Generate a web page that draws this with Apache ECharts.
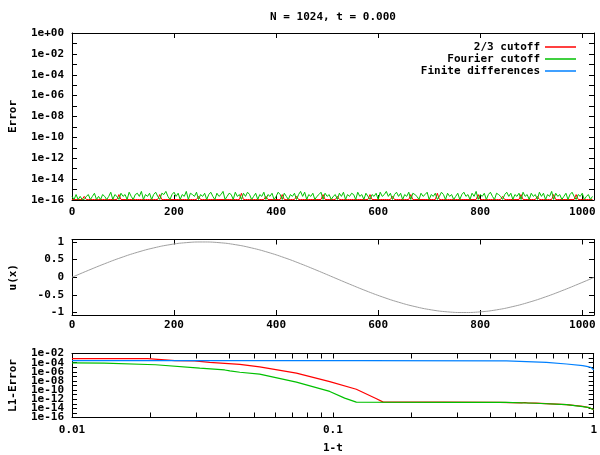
<!DOCTYPE html>
<html><head><meta charset="utf-8">
<script src="https://cdn.jsdelivr.net/npm/echarts@6/dist/echarts.min.js"></script>
<style>html,body{margin:0;padding:0;background:#fff}#c{width:600px;height:455px}</style>
</head><body><div id="c"></div>
<script>
const titleText = 'N = 1024, t = 0.000';
const seriesNames = ['2/3 cutoff', 'Fourier cutoff', 'Finite differences'];
const colors = ['#ff0000', '#00c000', '#0080ff'];

// ---- top panel: pointwise error, in units of double-precision ulp (1.11e-16), sampled every 4th grid point
const noiseStep = 4;
const ulp = 1.11e-16;
const greenNoise = [
2,1,3,1,2,1,1,2,3,1,2,4,1,2,1,3,2,1,2,5,1,3,2,1,4,2,3,1,5,2,1,3,
4,2,6,1,3,2,4,1,3,5,2,1,4,3,6,2,1,3,5,2,4,1,3,2,6,1,4,3,2,5,1,3,
2,4,1,3,5,2,1,4,2,3,6,1,2,4,3,1,5,2,3,1,4,2,5,3,1,2,4,1,3,2,5,1,
3,2,4,1,2,5,3,1,4,2,1,3,2,4,1,3,6,2,5,1,3,2,4,1,2,3,5,1,4,2,3,1,
2,3,1,4,2,5,1,3,2,4,3,1,5,2,3,1,4,2,1,3,2,4,1,5,2,3,6,2,4,1,3,5,
2,4,1,3,2,5,1,4,3,2,1,4,2,3,5,1,3,2,4,1,2,5,3,1,4,2,3,1,2,4,1,3,
5,2,3,1,4,2,6,1,3,2,4,1,3,5,2,1,4,3,2,1,3,5,2,4,1,3,2,4,1,5,2,3,
1,4,2,3,1,5,2,4,1,3,2,6,1,4,2,3,1,2,4,1,3,5,2,1,3,2,4,1,2,3,1,2];
const redNoise = [
1,1,1,1,1,1,2,1,1,1,1,1,1,1,1,1,1,1,1,1,1,1,1,3,1,1,1,1,1,1,1,1,
1,1,1,1,1,1,1,1,1,1,1,3,1,1,1,1,1,1,1,1,1,1,1,1,1,1,1,1,1,1,2,1,
1,1,1,1,1,1,1,1,1,1,1,1,1,1,1,1,1,1,1,4,1,1,1,1,1,1,1,1,1,1,1,2,
1,1,1,1,1,1,1,3,1,1,1,1,1,1,2,1,1,1,1,1,1,1,1,1,1,1,1,3,1,1,1,1,
1,1,2,1,1,1,1,1,1,1,1,1,1,1,1,1,1,1,3,1,1,1,1,1,1,1,1,1,1,2,1,1,
1,1,1,1,1,1,3,1,1,1,1,1,1,1,1,1,1,1,1,4,1,1,1,1,1,1,1,1,1,1,1,1,
1,1,1,1,1,1,1,3,1,1,1,1,1,1,1,1,1,1,1,2,1,1,1,1,1,1,1,1,3,1,1,1,
1,1,1,1,2,1,1,1,1,1,1,1,3,1,1,1,1,1,1,1,1,1,1,3,1,1,1,1,1,1,1,1];
const xMax = 1023;
const xTicks = [0, 200, 400, 600, 800, 1000];
const errTicks = [1e-16,1e-15,1e-14,1e-13,1e-12,1e-11,1e-10,1e-9,1e-8,1e-7,1e-6,1e-5,1e-4,1e-3,1e-2,1e-1,1];

// ---- middle panel: u(x)
const uX = [0,32,64,96,128,160,192,224,256,288,320,352,384,416,448,480,512,544,576,608,640,672,704,736,768,800,832,864,896,928,960,992,1023];
const uY = [0,0.195,0.383,0.556,0.707,0.831,0.924,0.981,1,0.981,0.924,0.831,0.707,0.556,0.383,0.195,0,
  -0.195,-0.383,-0.556,-0.707,-0.831,-0.924,-0.981,-1,-0.981,-0.924,-0.831,-0.707,-0.556,-0.383,-0.195,-0.006];
const uTicks = [-1, -0.5, 0, 0.5, 1];

// ---- bottom panel: L1 error vs 1-t
const l1Ticks = [1e-16,1e-15,1e-14,1e-13,1e-12,1e-11,1e-10,1e-9,1e-8,1e-7,1e-6,1e-5,1e-4,1e-3,1e-2];
const tLabels = [0.01, 0.1, 1];
const tTicks = [0.01,0.02,0.03,0.04,0.05,0.06,0.07,0.08,0.09,0.1,0.2,0.3,0.4,0.5,0.6,0.7,0.8,0.9,1];
const redT = [0.01,0.0195,0.0196,0.0248,0.0295,0.0337,0.044,0.0524,0.0725,0.0973,0.123,0.147,0.156,0.264,0.436,0.53,0.545,0.56,0.6,0.787,0.908,0.96,1.0];
const redE = [7.4e-4,7.4e-4,4.5e-4,2.7e-4,2.5e-4,1.1e-4,4.0e-5,1.15e-5,4.9e-7,7.2e-9,1.5e-10,1.26e-12,2.3e-13,2.2e-13,2.05e-13,1.6e-13,1.9e-13,1.5e-13,1.35e-13,6.4e-14,2.6e-14,1.5e-14,5e-15];
const greenT = [0.01,0.0133,0.01346,0.0209,0.0211,0.0309,0.0385,0.0403,0.044,0.0524,0.0725,0.0973,0.111,0.123,0.3,0.46,0.6,0.787,0.908,0.96,1.0];
const greenE = [8.5e-5,8e-5,4.5e-5,3.5e-5,1.9e-5,6.3e-6,2.5e-6,1.6e-6,8e-7,3e-7,5.4e-9,5e-11,1.7e-12,2.3e-13,2.1e-13,2e-13,1.3e-13,6.3e-14,2.5e-14,1.5e-14,5e-15];
const blueT = [0.01,0.129,0.13,0.463,0.47,0.659,0.662,0.787,0.908,0.95,0.98,1.0];
const blueE = [2.7e-4,2.7e-4,2.35e-4,2.35e-4,1.2e-4,1.2e-4,7.4e-5,5.1e-5,2.2e-5,1.4e-5,8e-6,2.5e-6];

const FONT = 'DejaVu Sans Mono';
const txt = {fontFamily: FONT, fontWeight: 'bold', fontSize: 11, color: '#000'};
const lineStyleAxis = {color: '#000', width: 1};

function logLabel(v) {
  const e = Math.round(Math.log10(v));
  if (e % 2 !== 0) return '';
  const a = Math.abs(e);
  return '1e' + (e < 0 ? '-' : '+') + (a < 10 ? '0' + a : '' + a);
}
function mkAxis(gridIndex, type, min, max, position, ticks, labels, fmt, margin, extra) {
  const ax = {
    gridIndex, type, min, max, position,
    axisLine: {show: true, onZero: false, lineStyle: lineStyleAxis},
    axisTick: {show: true, inside: true, length: 5, lineStyle: lineStyleAxis, customValues: ticks},
    axisLabel: labels ? Object.assign({show: true, margin: margin, customValues: labels, formatter: fmt, hideOverlap: false}, txt) : {show: false},
    splitLine: {show: false}, minorTick: {show: false}, minorSplitLine: {show: false}
  };
  if (type === 'log') ax.logBase = 10;
  return Object.assign(ax, extra || {});
}

const grids = [
  {left: 72, top: 33, width: 522, height: 167},
  {left: 72, top: 239.5, width: 522, height: 75.5},
  {left: 72, top: 353.5, width: 522, height: 64}
];

const xAxes = [
  mkAxis(0, 'value', 0, xMax, 'bottom', xTicks, xTicks, v => '' + v, 7),
  mkAxis(0, 'value', 0, xMax, 'top', xTicks, null),
  mkAxis(1, 'value', 0, xMax, 'bottom', xTicks, xTicks, v => '' + v, 5),
  mkAxis(1, 'value', 0, xMax, 'top', xTicks, null),
  mkAxis(2, 'log', 0.01, 1, 'bottom', tTicks, tLabels, v => '' + (+v.toPrecision(3)), 7,
    {name: '1-t', nameLocation: 'middle', nameGap: 25, nameTextStyle: txt}),
  mkAxis(2, 'log', 0.01, 1, 'top', tTicks, null)
];
const yAxes = [
  mkAxis(0, 'log', 1e-16, 1, 'left', errTicks, errTicks, logLabel, 8,
    {name: 'Error', nameLocation: 'middle', nameGap: 53, nameRotate: 90, nameTextStyle: txt}),
  mkAxis(0, 'log', 1e-16, 1, 'right', errTicks, null),
  mkAxis(1, 'value', -1.07, 1.07, 'left', uTicks, uTicks, v => '' + v, 8,
    {name: 'u(x)', nameLocation: 'middle', nameGap: 53, nameRotate: 90, nameTextStyle: txt}),
  mkAxis(1, 'value', -1.07, 1.07, 'right', uTicks, null),
  mkAxis(2, 'log', 1e-16, 1e-2, 'left', l1Ticks, l1Ticks, logLabel, 8,
    {name: 'L1-Error', nameLocation: 'middle', nameGap: 53, nameRotate: 90, nameTextStyle: txt}),
  mkAxis(2, 'log', 1e-16, 1e-2, 'right', l1Ticks, null)
];

function lineSeries(name, color, xi, yi, data, extra) {
  return Object.assign({
    name, type: 'line', xAxisIndex: xi, yAxisIndex: yi, data,
    showSymbol: false, symbol: 'none', clip: true, animation: false,
    lineStyle: {color, width: 1}, itemStyle: {color}, silent: true
  }, extra || {});
}
const pairs = (xs, ys) => xs.map((x, i) => [x, ys[i]]);
const noise = arr => arr.map((k, i) => [i * noiseStep, k * ulp]);

const series = [
  lineSeries(seriesNames[0], colors[0], 0, 0, noise(redNoise)),
  lineSeries(seriesNames[1], colors[1], 0, 0, noise(greenNoise)),
  lineSeries(seriesNames[2], colors[2], 0, 0, []),
  lineSeries('u', '#a0a0a0', 2, 2, pairs(uX, uY), {smooth: true}),
  lineSeries(seriesNames[0], colors[0], 4, 4, pairs(redT, redE), {lineStyle: {color: colors[0], width: 1.2}}),
  lineSeries(seriesNames[1], colors[1], 4, 4, pairs(greenT, greenE), {lineStyle: {color: colors[1], width: 1.2}}),
  lineSeries(seriesNames[2], colors[2], 4, 4, pairs(blueT, blueE), {lineStyle: {color: colors[2], width: 1.2}})
];

const chart = echarts.init(document.getElementById('c'), null, {renderer: 'canvas'});
chart.setOption({
  animation: false,
  backgroundColor: '#fff',
  graphic: [{type: 'text', x: 333, y: 17, style: Object.assign({text: titleText, align: 'center', verticalAlign: 'middle', fill: '#000', font: 'bold 11px "' + FONT + '"'})}],
  legend: {
    data: seriesNames.map(n => ({name: n, icon: 'rect'})),
    orient: 'vertical', align: 'right', right: 19, top: 36,
    itemWidth: 31, itemHeight: 1.5, itemGap: 0,
    textStyle: Object.assign({lineHeight: 12}, txt),
    selectedMode: false
  },
  grid: grids,
  xAxis: xAxes,
  yAxis: yAxes,
  series
});
</script></body></html>
